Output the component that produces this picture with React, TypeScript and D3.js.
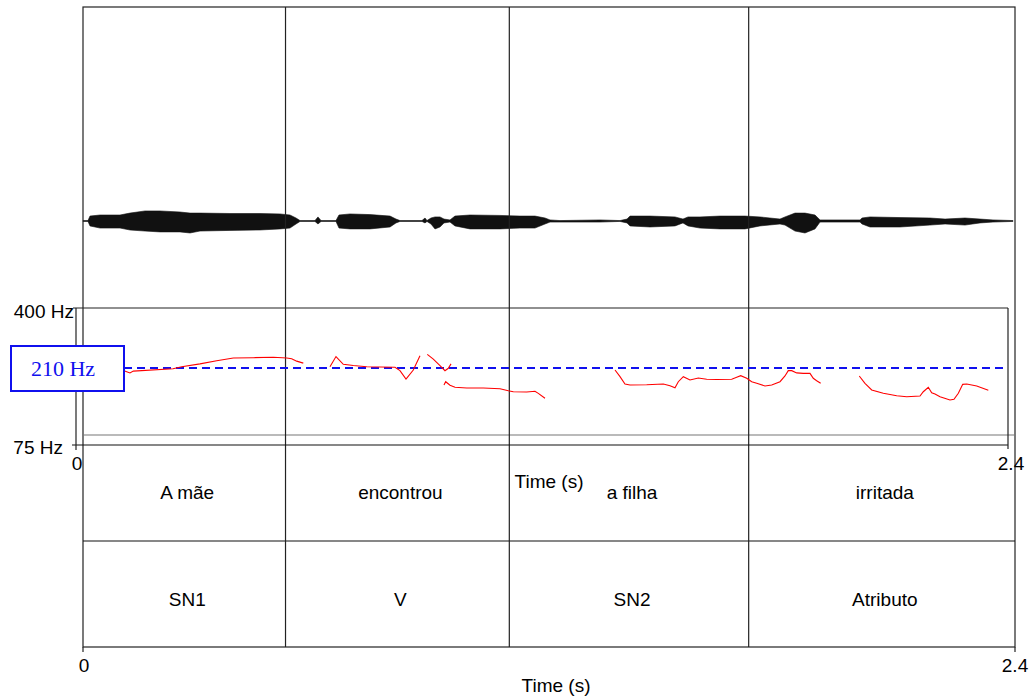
import React from 'react';
import * as d3 from 'd3';

const W = 1033;
const H = 696;

// Interval boundaries (s) and tier labels
const boundaries = [0, 0.5215, 1.0978, 1.7142, 2.4];
const wordLabels = ['A mãe', 'encontrou', 'a filha', 'irritada'];
const phraseLabels = ['SN1', 'V', 'SN2', 'Atributo'];
const timeTicks = [0, 2.4];
const timeTickLabels = ['0', '2.4'];
const freqTicks = [400, 75];
const freqTickLabels = ['400 Hz', '75 Hz'];
const referenceLabel = '210 Hz';
const referenceLineHz = 192;

// Waveform envelope (time s, upper / lower amplitude)
const waveT = [0, 0.0129, 0.018, 0.0438, 0.0953, 0.121, 0.1597, 0.1983, 0.2498, 0.2755, 0.3013, 0.3785, 0.4558, 0.5073, 0.533, 0.5485, 0.5588, 0.5974, 0.6051, 0.6129, 0.6515, 0.6592, 0.6876, 0.739, 0.7906, 0.806, 0.8163, 0.873, 0.8807, 0.8858, 0.8961, 0.9064, 0.9193, 0.9296, 0.945, 0.9579, 0.9966, 1.0738, 1.1253, 1.1639, 1.1897, 1.2026, 1.2283, 1.3313, 1.3828, 1.4009, 1.4086, 1.4601, 1.5245, 1.545, 1.558, 1.5888, 1.6403, 1.7047, 1.7433, 1.7948, 1.8077, 1.8335, 1.8592, 1.885, 1.8979, 2.0009, 2.006, 2.0266, 2.1039, 2.1811, 2.2198, 2.2713, 2.3099, 2.3433, 2.3948];
const waveUp = [0.002, 0.002, 0.023, 0.028, 0.028, 0.037, 0.047, 0.047, 0.042, 0.037, 0.037, 0.035, 0.035, 0.033, 0.028, 0.014, 0.002, 0.002, 0.019, 0.002, 0.002, 0.028, 0.033, 0.030, 0.023, 0.009, 0.002, 0.002, 0.014, 0.002, 0.014, 0.019, 0.019, 0.009, 0.005, 0.023, 0.028, 0.026, 0.023, 0.023, 0.014, 0.005, 0.002, 0.005, 0.002, 0.009, 0.023, 0.023, 0.019, 0.009, 0.019, 0.019, 0.023, 0.023, 0.019, 0.009, 0.019, 0.037, 0.037, 0.028, 0.005, 0.005, 0.014, 0.019, 0.016, 0.014, 0.009, 0.014, 0.009, 0.005, 0.002];
const waveDown = [0.002, 0.002, 0.023, 0.033, 0.033, 0.042, 0.047, 0.051, 0.051, 0.056, 0.047, 0.044, 0.042, 0.037, 0.033, 0.014, 0.002, 0.002, 0.014, 0.002, 0.002, 0.033, 0.037, 0.037, 0.028, 0.009, 0.002, 0.002, 0.009, 0.002, 0.014, 0.037, 0.028, 0.009, 0.005, 0.023, 0.037, 0.037, 0.033, 0.033, 0.014, 0.005, 0.005, 0.005, 0.002, 0.009, 0.023, 0.028, 0.023, 0.009, 0.023, 0.033, 0.037, 0.037, 0.023, 0.014, 0.019, 0.047, 0.056, 0.037, 0.005, 0.005, 0.014, 0.028, 0.028, 0.019, 0.014, 0.019, 0.009, 0.005, 0.002];

// Pitch contour (time s, Hz); null marks an unvoiced break
const pitchT = [
  0.1236, 0.139, 0.1476, 0.2498, 0.2722, 0.3193, 0.3623, 0.4051, 0.4566, 0.5081, 0.5426, 0.5554, 0.5683, 0.5853, null,
  0.654, 0.6695, 0.6883, 0.7141, 0.7486, 0.7828, 0.8215, 0.8343, 0.8498, 0.8686, 0.8858, null,
  0.9046, 0.9201, 0.9373, 0.9502, 0.9587, 0.9657, null,
  0.9476, 0.952, 0.9631, 0.976, 1.0061, 1.0488, 1.0918, 1.1132, 1.1261, 1.1606, 1.182, 1.1905, 1.2077, null,
  1.388, 1.4009, 1.4137, 1.4266, 1.4696, 1.5124, 1.5296, 1.5425, 1.551, 1.5639, 1.5811, 1.6025, 1.6241, 1.6499, 1.6885, 1.7014, 1.7117, 1.7272, 1.74, 1.7529, 1.7742, 1.7915, 1.8129, 1.8257, 1.8342, 1.843, 1.8559, 1.8728, 1.8901, 1.8986, 1.9073, 1.9176, null,
  2.017, 2.0317, 2.049, 2.0789, 2.1134, 2.1391, 2.1734, 2.1819, 2.1948, 2.2035, 2.212, 2.2249, 2.2506, 2.2609, 2.2721, 2.2834, 2.2937, 2.3195, 2.3493,
];
const pitchHz = [
  186, 181, 185, 190.5, 195, 202, 210, 217, 218, 219, 217, 215, 209, 204, null,
  195, 221, 201, 198, 195, 194.5, 194, 186, 168, 187.5, 223, null,
  227, 214, 198, 186, 191.5, 202, null,
  156, 162.5, 155.6, 151.8, 150.5, 150.5, 149, 145.6, 143.8, 143.3, 144.6, 141, 132.7, null,
  187.5, 172.8, 158, 156, 156.6, 158, 154.8, 151, 162.5, 172.8, 166, 170, 167.4, 167, 167.4, 171.5, 175, 169.4, 162.5, 159.4, 154.2, 156, 162.5, 174.3, 186, 186, 181, 180, 180, 169.4, 164.5, 159.4, null,
  174.3, 159.4, 147, 141, 137, 135.3, 136.5, 143.8, 151.8, 142, 139.9, 135.3, 130, 131, 141, 157.4, 158, 154.2, 146.3,
];

const SANS = '"Liberation Sans", Arial, Helvetica, sans-serif';
const SERIF = '"Liberation Serif", "Times New Roman", serif';

export default function App() {
  // main (waveform + tiers) frame
  const x = d3.scaleLinear().domain([0, 2.4]).range([83, 1015]);
  const yWave = d3.scaleLinear().domain([-1, 1]).range([435, 7]);
  // pitch inset frame
  const xp = d3.scaleLinear().domain([0, 2.4]).range([76, 1008]);
  const yp = d3.scaleLog().domain([75, 400]).range([445, 308]);

  const waveArea = d3
    .area<number>()
    .x((_, i) => x(waveT[i]))
    .y0((_, i) => yWave(-waveDown[i]))
    .y1((_, i) => yWave(waveUp[i]));

  const pitchLine = d3
    .line<number | null>()
    .defined((d, i) => d !== null && pitchHz[i] !== null)
    .x((_, i) => xp(pitchT[i] as number))
    .y((_, i) => yp(pitchHz[i] as number));

  const tierTop = 435, tierMid = 541, tierBot = 647;
  const refY = yp(referenceLineHz);

  return (
    <svg width={W} height={H} style={{ position: 'absolute', left: 0, top: 0, background: '#fff' }}>
      {/* waveform */}
      <path d={waveArea(waveT) || ''} fill="#111" stroke="#111" strokeWidth={0.6} />

      {/* main frame */}
      <rect x={x(0)} y={7} width={x(2.4) - x(0)} height={tierBot - 7} fill="none" stroke="#222" strokeWidth={1.2} />
      <line x1={x(0)} x2={x(2.4)} y1={tierTop} y2={tierTop} stroke="#777" strokeWidth={1.2} />
      <line x1={x(0)} x2={x(2.4)} y1={tierMid} y2={tierMid} stroke="#111" strokeWidth={1.2} />
      {boundaries.slice(1, -1).map((b, i) => (
        <line key={'b' + i} x1={x(b)} x2={x(b)} y1={7} y2={tierBot} stroke="#222" strokeWidth={1.2} />
      ))}
      {wordLabels.map((l, i) => (
        <text key={'w' + i} x={(x(boundaries[i]) + x(boundaries[i + 1])) / 2 + 3} y={(tierTop + tierMid) / 2 + 11}
          textAnchor="middle" fontFamily={SANS} fontSize={19} fill="#000">{l}</text>
      ))}
      {phraseLabels.map((l, i) => (
        <text key={'p' + i} x={(x(boundaries[i]) + x(boundaries[i + 1])) / 2 + 3} y={(tierMid + tierBot) / 2 + 12}
          textAnchor="middle" fontFamily={SANS} fontSize={19} fill="#000">{l}</text>
      ))}
      {timeTicks.map((t, i) => (
        <g key={'mt' + i}>
          <line x1={x(t)} x2={x(t)} y1={tierBot} y2={tierBot + 5} stroke="#222" strokeWidth={1.2} />
          <text x={x(t) + (i === 0 ? 1 : 0)} y={tierBot + 25} textAnchor="middle" fontFamily={SANS} fontSize={19} fill="#000">{timeTickLabels[i]}</text>
        </g>
      ))}
      <text x={556} y={692} textAnchor="middle" fontFamily={SANS} fontSize={19} fill="#000">Time (s)</text>

      {/* pitch inset */}
      <line x1={73} x2={xp(2.4)} y1={yp(400)} y2={yp(400)} stroke="#222" strokeWidth={1.2} />
      <line x1={72} x2={xp(2.4)} y1={yp(75)} y2={yp(75)} stroke="#111" strokeWidth={1.2} />
      <line x1={xp(0)} x2={xp(0)} y1={yp(400)} y2={yp(75) + 5} stroke="#222" strokeWidth={1.2} />
      <line x1={xp(2.4)} x2={xp(2.4)} y1={yp(400)} y2={yp(75) + 4} stroke="#222" strokeWidth={1.2} />
      {freqTicks.map((f, i) => (
        <text key={'ft' + i} x={i === 0 ? 74 : 63} y={yp(f) + (i === 0 ? 10 : 9)} textAnchor="end" fontFamily={SANS} fontSize={19} fill="#000">{freqTickLabels[i]}</text>
      ))}
      {timeTicks.map((t, i) => (
        <text key={'it' + i} x={xp(t) + (i === 0 ? 1 : 3)} y={yp(75) + 25} textAnchor="middle" fontFamily={SANS} fontSize={19} fill="#000">{timeTickLabels[i]}</text>
      ))}
      <text x={549} y={488} textAnchor="middle" fontFamily={SANS} fontSize={19} fill="#000">Time (s)</text>

      <line x1={124} x2={1005} y1={refY} y2={refY} stroke="#1010ee" strokeWidth={2} strokeDasharray="8,5" />
      <path d={pitchLine(pitchT) || ''} fill="none" stroke="#ff0000" strokeWidth={1.1} />

      <rect x={11} y={346} width={113} height={45} fill="#fff" stroke="#1010ee" strokeWidth={2} />
      <text x={63} y={376} textAnchor="middle" fontFamily={SERIF} fontSize={22} fill="#1010ee">{referenceLabel}</text>
    </svg>
  );
}
